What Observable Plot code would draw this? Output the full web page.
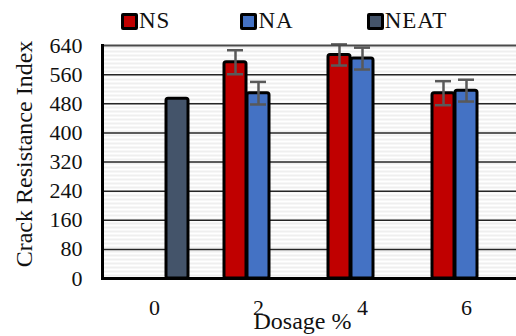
<!DOCTYPE html>
<html>
<head>
<meta charset="utf-8">
<script src="https://cdn.jsdelivr.net/npm/d3@7"></script>
<script src="https://cdn.jsdelivr.net/npm/@observablehq/plot@0.6"></script>
<style>
  body { margin: 0; background: #fff; width: 516px; height: 336px; overflow: hidden; }
  #legend { height: 36px; display: flex; align-items: center; padding-left: 121px; font-family: "Liberation Serif", "Times New Roman", serif; font-size: 23px; color: #111; box-sizing: border-box; padding-top: 6px; }
  .item { display: flex; align-items: center; }
  .sw { width: 11px; height: 11px; border: 3px solid #000; border-radius: 2px; margin-right: 1px; }
  .lab { letter-spacing: 1px; font-family: "Liberation Serif", "Times New Roman", serif; }
  svg { display: block; }
  #chart svg, #chart svg text { font-family: "Liberation Serif", "Times New Roman", serif !important; }
</style>
</head>
<body>
<div id="legend"></div>
<div id="chart"></div>
<script>
const dosages = ["0", "2", "4", "6"];
const seriesNames = ["NS", "NA", "NEAT"];
const nsMean = [null, 594, 614, 509];
const naMean = [null, 509, 604, 516];
const neatMean = [494, null, null, null];
const nsErr = [null, 33, 29, 33];
const naErr = [null, 31, 30, 30];
const neatErr = [null, null, null, null];
const seriesColors = ["#C00000", "#4472C4", "#44546A"];
const yTicks = [0, 80, 160, 240, 320, 400, 480, 560, 640];
const yLabel = "Crack Resistance Index";
const xLabel = "Dosage %";

const means = [nsMean, naMean, neatMean];
const errs = [nsErr, naErr, neatErr];
const font = '"Liberation Serif", "Times New Roman", serif';

// legend
const legend = document.getElementById("legend");
const gaps = [70, 73, 0];
seriesNames.forEach((name, i) => {
  const item = document.createElement("div");
  item.className = "item";
  item.style.marginRight = gaps[i] + "px";
  const sw = document.createElement("div");
  sw.className = "sw";
  sw.style.background = seriesColors[i];
  const lab = document.createElement("span");
  lab.className = "lab";
  lab.textContent = name;
  item.appendChild(sw);
  item.appendChild(lab);
  legend.appendChild(item);
});

const slot = 23;
const barMarks = [];
const errMarks = [];
seriesNames.forEach((name, i) => {
  const rows = dosages.map((d, j) => ({dosage: d, value: means[i][j], err: errs[i][j]}))
    .filter(r => r.value != null);
  const errRows = rows.filter(r => r.err != null);
  const off = (i - 1) * slot;
  barMarks.push(Plot.barY(rows, {
    x: "dosage", y: "value", fill: seriesColors[i], stroke: "#000", strokeWidth: 3,
    insetLeft: 41, insetRight: 41, dx: off, rx: 2
  }));
  errMarks.push(Plot.ruleX(errRows, {
    x: "dosage", y1: d => d.value - d.err, y2: d => d.value + d.err,
    stroke: "#595959", strokeWidth: 2.5, dx: off
  }));
  errMarks.push(Plot.tickY(errRows, {
    x: "dosage", y: d => d.value + d.err, stroke: "#595959", strokeWidth: 2.5,
    insetLeft: 44, insetRight: 44, dx: off
  }));
  errMarks.push(Plot.tickY(errRows, {
    x: "dosage", y: d => d.value - d.err, stroke: "#595959", strokeWidth: 2.5,
    insetLeft: 44, insetRight: 44, dx: off
  }));
});

const chart = Plot.plot({
  width: 516,
  height: 300,
  marginLeft: 102,
  marginRight: -2,
  marginTop: 9,
  marginBottom: 58,
  style: {fontFamily: font, fontSize: "22px", color: "#111", background: "transparent", overflow: "visible"},
  x: {type: "band", domain: dosages, padding: 0, label: null},
  y: {domain: [0, 640], ticks: yTicks, label: null},
  marks: [
    Plot.frame({fill: "url(#hstripes)"}),
    Plot.ruleY(yTicks.slice(1, -1), {stroke: "#262626", strokeWidth: 1.5}),
    ...barMarks,
    ...errMarks,
    Plot.ruleY([640], {stroke: "#4a4a4a", strokeWidth: 2}),
    Plot.ruleY([0], {stroke: "#000", strokeWidth: 3}),
    Plot.frame({anchor: "left", stroke: "#000", strokeWidth: 3}),
    Plot.axisY({ticks: yTicks, tickSize: 0, tickPadding: 20, fontSize: 22, label: null, fill: "#111"}),
    Plot.axisX({tickSize: 0, tickPadding: 21, fontSize: 22, label: null, fill: "#111"}),
    Plot.text([yLabel], {frameAnchor: "left", textAnchor: "middle", rotate: -90, dx: -78, dy: -8, fontSize: 24, fill: "#111"}),
    Plot.text([xLabel], {frameAnchor: "bottom", dx: -8, dy: 50, fontSize: 24, fill: "#111"})
  ]
});

const svg = d3.select(chart);
svg.selectAll("text").style("font-family", font);
const defs = svg.insert("defs", ":first-child");
const pat = defs.append("pattern").attr("id", "hstripes").attr("patternUnits", "userSpaceOnUse")
  .attr("width", 8).attr("height", 4);
pat.append("rect").attr("width", 8).attr("height", 4).attr("fill", "#ffffff");
pat.append("rect").attr("y", 2).attr("width", 8).attr("height", 2).attr("fill", "#efefef");

document.getElementById("chart").appendChild(chart);
</script>
</body>
</html>
